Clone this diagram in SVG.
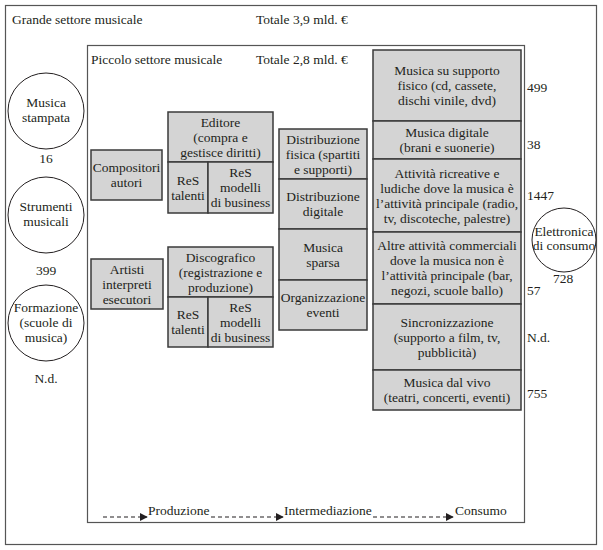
<svg xmlns="http://www.w3.org/2000/svg" width="603" height="550" viewBox="0 0 603 550">
<defs>
<style>
text{font-family:'Liberation Serif','Times New Roman',serif;font-size:13.5px;fill:#231f20}
.c{text-anchor:middle}
.box{fill:#d4d4d4;stroke:#3a3a3a;stroke-width:1.5}
.frame{fill:none;stroke:#555;stroke-width:1.2}
.circ{fill:#fff;stroke:#231f20;stroke-width:1}
.dash{stroke:#231f20;stroke-width:1.2;stroke-dasharray:4 3;fill:none}
</style>
<marker id="ah" viewBox="0 0 10 10" refX="9" refY="5" markerWidth="8" markerHeight="8" markerUnits="userSpaceOnUse" orient="auto">
<path d="M0,0 L10,5 L0,10 Z" fill="#231f20"/>
</marker>
</defs>
<rect width="603" height="550" fill="#fff"/>
<g id="grande">
<rect class="frame" x="5.5" y="5.5" width="591" height="539"/>
<text x="12" y="24">Grande settore musicale</text>
<text x="256" y="24">Totale 3,9 mld. €</text>
</g>
<g id="piccolo">
<rect class="frame" x="87.5" y="45.5" width="437" height="477"/>
<text x="91" y="64">Piccolo settore musicale</text>
<text x="256" y="64">Totale 2,8 mld. €</text>
</g>
<g id="musica-stampata">
<circle class="circ" cx="46" cy="111" r="38"/>
<text class="c" x="46" y="107">Musica</text>
<text class="c" x="46" y="122">stampata</text>
<text class="c" x="46" y="163">16</text>
</g>
<g id="strumenti">
<circle class="circ" cx="46" cy="215" r="38"/>
<text class="c" x="46" y="211">Strumenti</text>
<text class="c" x="46" y="226">musicali</text>
<text class="c" x="46" y="275">399</text>
</g>
<g id="formazione">
<circle class="circ" cx="46" cy="323" r="38"/>
<text class="c" x="46" y="312">Formazione</text>
<text class="c" x="46" y="327">(scuole di</text>
<text class="c" x="46" y="342">musica)</text>
<text class="c" x="46" y="383">N.d.</text>
</g>
<g id="elettronica">
<circle class="circ" cx="564" cy="240" r="32"/>
<text class="c" x="564" y="236">Elettronica</text>
<text class="c" x="564" y="250">di consumo</text>
<text class="c" x="563" y="283">728</text>
</g>
<g id="compositori">
<rect class="box" x="91" y="150" width="71" height="50"/>
<text class="c" x="126.5" y="172">Compositori</text>
<text class="c" x="126.5" y="187">autori</text>
</g>
<g id="editore">
<rect class="box" x="168" y="112" width="105" height="50"/>
<text class="c" x="220.5" y="126.5">Editore</text>
<text class="c" x="220.5" y="141.5">(compra e</text>
<text class="c" x="220.5" y="156.5">gestisce diritti)</text>
</g>
<g id="editore-res-talenti">
<rect class="box" x="168" y="162" width="40" height="51"/>
<text class="c" x="188" y="184.5">ReS</text>
<text class="c" x="188" y="199.5">talenti</text>
</g>
<g id="editore-res-modelli">
<rect class="box" x="208" y="162" width="65" height="51"/>
<text class="c" x="240.5" y="177">ReS</text>
<text class="c" x="240.5" y="192">modelli</text>
<text class="c" x="240.5" y="207">di business</text>
</g>
<g id="artisti">
<rect class="box" x="91" y="259" width="72" height="50"/>
<text class="c" x="127" y="273.5">Artisti</text>
<text class="c" x="127" y="288.5">interpreti</text>
<text class="c" x="127" y="303.5">esecutori</text>
</g>
<g id="discografico">
<rect class="box" x="168" y="247" width="105" height="50"/>
<text class="c" x="220.5" y="261.5">Discografico</text>
<text class="c" x="220.5" y="276.5">(registrazione e</text>
<text class="c" x="220.5" y="291.5">produzione)</text>
</g>
<g id="discografico-res-talenti">
<rect class="box" x="168" y="297" width="40" height="50"/>
<text class="c" x="188" y="319">ReS</text>
<text class="c" x="188" y="334">talenti</text>
</g>
<g id="discografico-res-modelli">
<rect class="box" x="208" y="297" width="65" height="50"/>
<text class="c" x="240.5" y="311.5">ReS</text>
<text class="c" x="240.5" y="326.5">modelli</text>
<text class="c" x="240.5" y="341.5">di business</text>
</g>
<g id="distribuzione-fisica">
<rect class="box" x="279" y="129" width="88" height="50"/>
<text class="c" x="323" y="143.5">Distribuzione</text>
<text class="c" x="323" y="158.5">fisica (spartiti</text>
<text class="c" x="323" y="173.5">e supporti)</text>
</g>
<g id="distribuzione-digitale">
<rect class="box" x="279" y="179" width="88" height="50"/>
<text class="c" x="323" y="201">Distribuzione</text>
<text class="c" x="323" y="216">digitale</text>
</g>
<g id="musica-sparsa">
<rect class="box" x="279" y="229" width="88" height="51"/>
<text class="c" x="323" y="251.5">Musica</text>
<text class="c" x="323" y="266.5">sparsa</text>
</g>
<g id="organizzazione-eventi">
<rect class="box" x="279" y="280" width="88" height="50"/>
<text class="c" x="323" y="302">Organizzazione</text>
<text class="c" x="323" y="317">eventi</text>
</g>
<g id="supporto-fisico">
<rect class="box" x="373" y="50" width="148" height="71"/>
<text class="c" x="447" y="75">Musica su supporto</text>
<text class="c" x="447" y="90">fisico (cd, cassete,</text>
<text class="c" x="447" y="105">dischi vinile, dvd)</text>
<text x="527" y="92">499</text>
</g>
<g id="musica-digitale">
<rect class="box" x="373" y="121" width="148" height="38"/>
<text class="c" x="447" y="137">Musica digitale</text>
<text class="c" x="447" y="152">(brani e suonerie)</text>
<text x="527" y="149">38</text>
</g>
<g id="attivita-ricreative">
<rect class="box" x="373" y="159" width="148" height="73"/>
<text class="c" x="447" y="177.5">Attività ricreative e</text>
<text class="c" x="447" y="192.5">ludiche dove la musica è</text>
<text class="c" x="447" y="207.5">l’attività principale (radio,</text>
<text class="c" x="447" y="222.5">tv, discoteche, palestre)</text>
<text x="527" y="200">1447</text>
</g>
<g id="altre-attivita">
<rect class="box" x="373" y="232" width="148" height="72"/>
<text class="c" x="447" y="250">Altre attività commerciali</text>
<text class="c" x="447" y="265">dove la musica non è</text>
<text class="c" x="447" y="280">l’attività principale (bar,</text>
<text class="c" x="447" y="295">negozi, scuole ballo)</text>
<text x="527" y="295">57</text>
</g>
<g id="sincronizzazione">
<rect class="box" x="373" y="304" width="148" height="66"/>
<text class="c" x="447" y="326.5">Sincronizzazione</text>
<text class="c" x="447" y="341.5">(supporto a film, tv,</text>
<text class="c" x="447" y="356.5">pubblicità)</text>
<text x="527" y="342">N.d.</text>
</g>
<g id="musica-dal-vivo">
<rect class="box" x="373" y="370" width="148" height="40"/>
<text class="c" x="447" y="387">Musica dal vivo</text>
<text class="c" x="447" y="402">(teatri, concerti, eventi)</text>
<text x="527" y="398">755</text>
</g>
<g id="connectors">
<line class="dash" x1="103" y1="517" x2="147" y2="517" marker-end="url(#ah)"/>
<line class="dash" x1="211" y1="517" x2="283" y2="517" marker-end="url(#ah)"/>
<line class="dash" x1="373" y1="517" x2="453" y2="517" marker-end="url(#ah)"/>
</g>
<g id="fasi">
<text x="148" y="515">Produzione</text>
<text x="284" y="515">Intermediazione</text>
<text x="455" y="515">Consumo</text>
</g>
</svg>
